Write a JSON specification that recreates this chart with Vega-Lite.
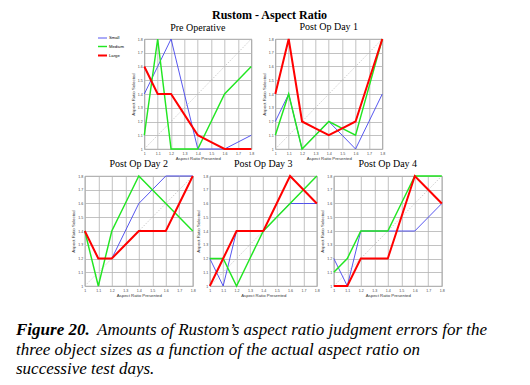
{
  "$schema": "https://vega.github.io/schema/vega-lite/v6.json",
  "padding": {"left": 16, "top": 8, "right": 0, "bottom": 0},
  "background": "white",
  "title": {"text": "Rustom - Aspect Ratio", "font": "Liberation Serif", "fontSize": 12, "fontWeight": "bold", "anchor": "middle", "offset": 0, "dx": 4},
  "data": {"values": [
    {"p":"Pre Operative","s":"Small","x":1.0,"y":1.4},{"p":"Pre Operative","s":"Small","x":1.1,"y":1.6},{"p":"Pre Operative","s":"Small","x":1.2,"y":1.8},{"p":"Pre Operative","s":"Small","x":1.3,"y":1.4},{"p":"Pre Operative","s":"Small","x":1.4,"y":1.0},{"p":"Pre Operative","s":"Small","x":1.5,"y":1.0},{"p":"Pre Operative","s":"Small","x":1.6,"y":1.0},{"p":"Pre Operative","s":"Small","x":1.7,"y":1.05},{"p":"Pre Operative","s":"Small","x":1.8,"y":1.1},
    {"p":"Pre Operative","s":"Medium","x":1.0,"y":1.1},{"p":"Pre Operative","s":"Medium","x":1.1,"y":1.8},{"p":"Pre Operative","s":"Medium","x":1.2,"y":1.0},{"p":"Pre Operative","s":"Medium","x":1.3,"y":1.0},{"p":"Pre Operative","s":"Medium","x":1.4,"y":1.0},{"p":"Pre Operative","s":"Medium","x":1.5,"y":1.2},{"p":"Pre Operative","s":"Medium","x":1.6,"y":1.4},{"p":"Pre Operative","s":"Medium","x":1.7,"y":1.5},{"p":"Pre Operative","s":"Medium","x":1.8,"y":1.6},
    {"p":"Pre Operative","s":"Large","x":1.0,"y":1.6},{"p":"Pre Operative","s":"Large","x":1.1,"y":1.4},{"p":"Pre Operative","s":"Large","x":1.2,"y":1.4},{"p":"Pre Operative","s":"Large","x":1.3,"y":1.25},{"p":"Pre Operative","s":"Large","x":1.4,"y":1.1},{"p":"Pre Operative","s":"Large","x":1.5,"y":1.05},{"p":"Pre Operative","s":"Large","x":1.6,"y":1.0},{"p":"Pre Operative","s":"Large","x":1.7,"y":1.0},{"p":"Pre Operative","s":"Large","x":1.8,"y":1.0},
    {"p":"Post Op Day 1","s":"Small","x":1.0,"y":1.2},{"p":"Post Op Day 1","s":"Small","x":1.1,"y":1.4},{"p":"Post Op Day 1","s":"Small","x":1.2,"y":1.0},{"p":"Post Op Day 1","s":"Small","x":1.3,"y":1.1},{"p":"Post Op Day 1","s":"Small","x":1.4,"y":1.2},{"p":"Post Op Day 1","s":"Small","x":1.5,"y":1.1},{"p":"Post Op Day 1","s":"Small","x":1.6,"y":1.0},{"p":"Post Op Day 1","s":"Small","x":1.7,"y":1.2},{"p":"Post Op Day 1","s":"Small","x":1.8,"y":1.4},
    {"p":"Post Op Day 1","s":"Medium","x":1.0,"y":1.1},{"p":"Post Op Day 1","s":"Medium","x":1.1,"y":1.4},{"p":"Post Op Day 1","s":"Medium","x":1.2,"y":1.0},{"p":"Post Op Day 1","s":"Medium","x":1.3,"y":1.1},{"p":"Post Op Day 1","s":"Medium","x":1.4,"y":1.2},{"p":"Post Op Day 1","s":"Medium","x":1.5,"y":1.15},{"p":"Post Op Day 1","s":"Medium","x":1.6,"y":1.1},{"p":"Post Op Day 1","s":"Medium","x":1.7,"y":1.45},{"p":"Post Op Day 1","s":"Medium","x":1.8,"y":1.8},
    {"p":"Post Op Day 1","s":"Large","x":1.0,"y":1.4},{"p":"Post Op Day 1","s":"Large","x":1.1,"y":1.8},{"p":"Post Op Day 1","s":"Large","x":1.2,"y":1.2},{"p":"Post Op Day 1","s":"Large","x":1.3,"y":1.15},{"p":"Post Op Day 1","s":"Large","x":1.4,"y":1.1},{"p":"Post Op Day 1","s":"Large","x":1.5,"y":1.15},{"p":"Post Op Day 1","s":"Large","x":1.6,"y":1.2},{"p":"Post Op Day 1","s":"Large","x":1.7,"y":1.5},{"p":"Post Op Day 1","s":"Large","x":1.8,"y":1.8},
    {"p":"Post Op Day 2","s":"Small","x":1.0,"y":1.4},{"p":"Post Op Day 2","s":"Small","x":1.1,"y":1.2},{"p":"Post Op Day 2","s":"Small","x":1.2,"y":1.2},{"p":"Post Op Day 2","s":"Small","x":1.3,"y":1.4},{"p":"Post Op Day 2","s":"Small","x":1.4,"y":1.6},{"p":"Post Op Day 2","s":"Small","x":1.5,"y":1.7},{"p":"Post Op Day 2","s":"Small","x":1.6,"y":1.8},{"p":"Post Op Day 2","s":"Small","x":1.7,"y":1.8},{"p":"Post Op Day 2","s":"Small","x":1.8,"y":1.8},
    {"p":"Post Op Day 2","s":"Medium","x":1.0,"y":1.4},{"p":"Post Op Day 2","s":"Medium","x":1.1,"y":1.0},{"p":"Post Op Day 2","s":"Medium","x":1.2,"y":1.4},{"p":"Post Op Day 2","s":"Medium","x":1.3,"y":1.6},{"p":"Post Op Day 2","s":"Medium","x":1.4,"y":1.8},{"p":"Post Op Day 2","s":"Medium","x":1.5,"y":1.7},{"p":"Post Op Day 2","s":"Medium","x":1.6,"y":1.6},{"p":"Post Op Day 2","s":"Medium","x":1.7,"y":1.5},{"p":"Post Op Day 2","s":"Medium","x":1.8,"y":1.4},
    {"p":"Post Op Day 2","s":"Large","x":1.0,"y":1.4},{"p":"Post Op Day 2","s":"Large","x":1.1,"y":1.2},{"p":"Post Op Day 2","s":"Large","x":1.2,"y":1.2},{"p":"Post Op Day 2","s":"Large","x":1.3,"y":1.3},{"p":"Post Op Day 2","s":"Large","x":1.4,"y":1.4},{"p":"Post Op Day 2","s":"Large","x":1.5,"y":1.4},{"p":"Post Op Day 2","s":"Large","x":1.6,"y":1.4},{"p":"Post Op Day 2","s":"Large","x":1.7,"y":1.6},{"p":"Post Op Day 2","s":"Large","x":1.8,"y":1.8},
    {"p":"Post Op Day 3","s":"Small","x":1.0,"y":1.2},{"p":"Post Op Day 3","s":"Small","x":1.1,"y":1.0},{"p":"Post Op Day 3","s":"Small","x":1.2,"y":1.4},{"p":"Post Op Day 3","s":"Small","x":1.3,"y":1.4},{"p":"Post Op Day 3","s":"Small","x":1.4,"y":1.4},{"p":"Post Op Day 3","s":"Small","x":1.5,"y":1.5},{"p":"Post Op Day 3","s":"Small","x":1.6,"y":1.6},{"p":"Post Op Day 3","s":"Small","x":1.7,"y":1.6},{"p":"Post Op Day 3","s":"Small","x":1.8,"y":1.6},
    {"p":"Post Op Day 3","s":"Medium","x":1.0,"y":1.2},{"p":"Post Op Day 3","s":"Medium","x":1.1,"y":1.2},{"p":"Post Op Day 3","s":"Medium","x":1.2,"y":1.0},{"p":"Post Op Day 3","s":"Medium","x":1.3,"y":1.2},{"p":"Post Op Day 3","s":"Medium","x":1.4,"y":1.4},{"p":"Post Op Day 3","s":"Medium","x":1.5,"y":1.5},{"p":"Post Op Day 3","s":"Medium","x":1.6,"y":1.6},{"p":"Post Op Day 3","s":"Medium","x":1.7,"y":1.7},{"p":"Post Op Day 3","s":"Medium","x":1.8,"y":1.8},
    {"p":"Post Op Day 3","s":"Large","x":1.0,"y":1.0},{"p":"Post Op Day 3","s":"Large","x":1.1,"y":1.2},{"p":"Post Op Day 3","s":"Large","x":1.2,"y":1.4},{"p":"Post Op Day 3","s":"Large","x":1.3,"y":1.4},{"p":"Post Op Day 3","s":"Large","x":1.4,"y":1.4},{"p":"Post Op Day 3","s":"Large","x":1.5,"y":1.6},{"p":"Post Op Day 3","s":"Large","x":1.6,"y":1.8},{"p":"Post Op Day 3","s":"Large","x":1.7,"y":1.7},{"p":"Post Op Day 3","s":"Large","x":1.8,"y":1.6},
    {"p":"Post Op Day 4","s":"Small","x":1.0,"y":1.2},{"p":"Post Op Day 4","s":"Small","x":1.1,"y":1.0},{"p":"Post Op Day 4","s":"Small","x":1.2,"y":1.4},{"p":"Post Op Day 4","s":"Small","x":1.3,"y":1.4},{"p":"Post Op Day 4","s":"Small","x":1.4,"y":1.4},{"p":"Post Op Day 4","s":"Small","x":1.5,"y":1.4},{"p":"Post Op Day 4","s":"Small","x":1.6,"y":1.4},{"p":"Post Op Day 4","s":"Small","x":1.7,"y":1.5},{"p":"Post Op Day 4","s":"Small","x":1.8,"y":1.6},
    {"p":"Post Op Day 4","s":"Medium","x":1.0,"y":1.1},{"p":"Post Op Day 4","s":"Medium","x":1.1,"y":1.2},{"p":"Post Op Day 4","s":"Medium","x":1.2,"y":1.4},{"p":"Post Op Day 4","s":"Medium","x":1.3,"y":1.4},{"p":"Post Op Day 4","s":"Medium","x":1.4,"y":1.4},{"p":"Post Op Day 4","s":"Medium","x":1.5,"y":1.6},{"p":"Post Op Day 4","s":"Medium","x":1.6,"y":1.8},{"p":"Post Op Day 4","s":"Medium","x":1.7,"y":1.8},{"p":"Post Op Day 4","s":"Medium","x":1.8,"y":1.8},
    {"p":"Post Op Day 4","s":"Large","x":1.0,"y":1.0},{"p":"Post Op Day 4","s":"Large","x":1.1,"y":1.0},{"p":"Post Op Day 4","s":"Large","x":1.2,"y":1.2},{"p":"Post Op Day 4","s":"Large","x":1.3,"y":1.2},{"p":"Post Op Day 4","s":"Large","x":1.4,"y":1.2},{"p":"Post Op Day 4","s":"Large","x":1.5,"y":1.5},{"p":"Post Op Day 4","s":"Large","x":1.6,"y":1.8},{"p":"Post Op Day 4","s":"Large","x":1.7,"y":1.7},{"p":"Post Op Day 4","s":"Large","x":1.8,"y":1.6}
  ]},
  "center": true,
  "spacing": -4,
  "vconcat": [
    {
      "bounds": "flush",
      "spacing": 24,
      "hconcat": [
        {
          "title": "Pre Operative", "width": 107, "height": 110,
          "encoding": {
            "x": {"field": "x", "type": "quantitative", "scale": {"domain": [1, 1.8], "nice": false, "zero": false}, "axis": {"title": "Aspect Ratio Presented", "values": [1, 1.1, 1.2, 1.3, 1.4, 1.5, 1.6, 1.7, 1.8], "format": "~g", "grid": true, "labelOverlap": false}},
            "y": {"field": "y", "type": "quantitative", "scale": {"domain": [1, 1.8], "nice": false, "zero": false}, "axis": {"title": "Aspect Ratio Selected", "values": [1, 1.1, 1.2, 1.3, 1.4, 1.5, 1.6, 1.7, 1.8], "format": "~g", "grid": true, "labelOverlap": false}}
          },
          "layer": [
            {"transform": [{"filter": "datum.p === 'Pre Operative' && datum.s === 'Small' && datum.x < 1.05"}], "mark": {"type": "rule", "color": "#b8b8b8", "strokeDash": [1.5, 1.5], "strokeWidth": 0.7},
             "encoding": {"x": {"datum": 1, "type": "quantitative"}, "y": {"datum": 1, "type": "quantitative"}, "x2": {"datum": 1.8}, "y2": {"datum": 1.8}}},
            {"transform": [{"filter": "datum.p === 'Pre Operative'"}], "mark": {"type": "line"},
             "encoding": {
               "color": {"field": "s", "type": "nominal", "sort": ["Small", "Medium", "Large"], "scale": {"domain": ["Small", "Medium", "Large"], "range": ["#4444ee", "#22e622", "#ff0000"]},
                 "legend": {"orient": "none", "legendX": 81, "legendY": -6, "title": null, "symbolType": "stroke", "symbolSize": 81, "labelFontSize": 4.2, "labelFont": "Liberation Sans", "rowPadding": -3, "labelOffset": 1}},
               "strokeWidth": {"field": "s", "type": "ordinal", "sort": ["Small", "Medium", "Large"], "scale": {"domain": ["Small", "Medium", "Large"], "range": [0.9, 2, 3.5]},
                 "legend": {"orient": "none", "legendX": 81, "legendY": -6, "title": null, "symbolType": "stroke", "symbolSize": 81, "labelFontSize": 4.2, "labelFont": "Liberation Sans", "rowPadding": -3, "labelOffset": 1}}
             }}
          ]
        },
        {
          "title": "Post Op Day 1", "width": 107, "height": 110,
          "encoding": {
            "x": {"field": "x", "type": "quantitative", "scale": {"domain": [1, 1.8], "nice": false, "zero": false}, "axis": {"title": "Aspect Ratio Presented", "values": [1, 1.1, 1.2, 1.3, 1.4, 1.5, 1.6, 1.7, 1.8], "format": "~g", "grid": true, "labelOverlap": false}},
            "y": {"field": "y", "type": "quantitative", "scale": {"domain": [1, 1.8], "nice": false, "zero": false}, "axis": {"title": "Aspect Ratio Selected", "values": [1, 1.1, 1.2, 1.3, 1.4, 1.5, 1.6, 1.7, 1.8], "format": "~g", "grid": true, "labelOverlap": false}}
          },
          "layer": [
            {"transform": [{"filter": "datum.p === 'Post Op Day 1' && datum.s === 'Small' && datum.x < 1.05"}], "mark": {"type": "rule", "color": "#b8b8b8", "strokeDash": [1.5, 1.5], "strokeWidth": 0.7},
             "encoding": {"x": {"datum": 1, "type": "quantitative"}, "y": {"datum": 1, "type": "quantitative"}, "x2": {"datum": 1.8}, "y2": {"datum": 1.8}}},
            {"transform": [{"filter": "datum.p === 'Post Op Day 1'"}], "mark": {"type": "line"},
             "encoding": {
               "color": {"field": "s", "type": "nominal", "sort": ["Small", "Medium", "Large"], "scale": {"domain": ["Small", "Medium", "Large"], "range": ["#4444ee", "#22e622", "#ff0000"]}, "legend": null},
               "strokeWidth": {"field": "s", "type": "ordinal", "sort": ["Small", "Medium", "Large"], "scale": {"domain": ["Small", "Medium", "Large"], "range": [0.9, 2, 3.5]}, "legend": null}
             }}
          ]
        }
      ]
    },
    {
      "bounds": "flush",
      "spacing": 17,
      "hconcat": [
        {
          "title": "Post Op Day 2", "width": 108, "height": 110,
          "encoding": {
            "x": {"field": "x", "type": "quantitative", "scale": {"domain": [1, 1.8], "nice": false, "zero": false}, "axis": {"title": "Aspect Ratio Presented", "values": [1, 1.1, 1.2, 1.3, 1.4, 1.5, 1.6, 1.7, 1.8], "format": "~g", "grid": true, "labelOverlap": false}},
            "y": {"field": "y", "type": "quantitative", "scale": {"domain": [1, 1.8], "nice": false, "zero": false}, "axis": {"title": "Aspect Ratio Selected", "values": [1, 1.1, 1.2, 1.3, 1.4, 1.5, 1.6, 1.7, 1.8], "format": "~g", "grid": true, "labelOverlap": false}}
          },
          "layer": [
            {"transform": [{"filter": "datum.p === 'Post Op Day 2' && datum.s === 'Small' && datum.x < 1.05"}], "mark": {"type": "rule", "color": "#b8b8b8", "strokeDash": [1.5, 1.5], "strokeWidth": 0.7},
             "encoding": {"x": {"datum": 1, "type": "quantitative"}, "y": {"datum": 1, "type": "quantitative"}, "x2": {"datum": 1.8}, "y2": {"datum": 1.8}}},
            {"transform": [{"filter": "datum.p === 'Post Op Day 2'"}], "mark": {"type": "line"},
             "encoding": {
               "color": {"field": "s", "type": "nominal", "sort": ["Small", "Medium", "Large"], "scale": {"domain": ["Small", "Medium", "Large"], "range": ["#4444ee", "#22e622", "#ff0000"]}, "legend": null},
               "strokeWidth": {"field": "s", "type": "ordinal", "sort": ["Small", "Medium", "Large"], "scale": {"domain": ["Small", "Medium", "Large"], "range": [0.9, 2, 3.5]}, "legend": null}
             }}
          ]
        },
        {
          "title": "Post Op Day 3", "width": 107, "height": 110,
          "encoding": {
            "x": {"field": "x", "type": "quantitative", "scale": {"domain": [1, 1.8], "nice": false, "zero": false}, "axis": {"title": "Aspect Ratio Presented", "values": [1, 1.1, 1.2, 1.3, 1.4, 1.5, 1.6, 1.7, 1.8], "format": "~g", "grid": true, "labelOverlap": false}},
            "y": {"field": "y", "type": "quantitative", "scale": {"domain": [1, 1.8], "nice": false, "zero": false}, "axis": {"title": "Aspect Ratio Selected", "values": [1, 1.1, 1.2, 1.3, 1.4, 1.5, 1.6, 1.7, 1.8], "format": "~g", "grid": true, "labelOverlap": false}}
          },
          "layer": [
            {"transform": [{"filter": "datum.p === 'Post Op Day 3' && datum.s === 'Small' && datum.x < 1.05"}], "mark": {"type": "rule", "color": "#b8b8b8", "strokeDash": [1.5, 1.5], "strokeWidth": 0.7},
             "encoding": {"x": {"datum": 1, "type": "quantitative"}, "y": {"datum": 1, "type": "quantitative"}, "x2": {"datum": 1.8}, "y2": {"datum": 1.8}}},
            {"transform": [{"filter": "datum.p === 'Post Op Day 3'"}], "mark": {"type": "line"},
             "encoding": {
               "color": {"field": "s", "type": "nominal", "sort": ["Small", "Medium", "Large"], "scale": {"domain": ["Small", "Medium", "Large"], "range": ["#4444ee", "#22e622", "#ff0000"]}, "legend": null},
               "strokeWidth": {"field": "s", "type": "ordinal", "sort": ["Small", "Medium", "Large"], "scale": {"domain": ["Small", "Medium", "Large"], "range": [0.9, 2, 3.5]}, "legend": null}
             }}
          ]
        },
        {
          "title": "Post Op Day 4", "width": 108, "height": 110,
          "encoding": {
            "x": {"field": "x", "type": "quantitative", "scale": {"domain": [1, 1.8], "nice": false, "zero": false}, "axis": {"title": "Aspect Ratio Presented", "values": [1, 1.1, 1.2, 1.3, 1.4, 1.5, 1.6, 1.7, 1.8], "format": "~g", "grid": true, "labelOverlap": false}},
            "y": {"field": "y", "type": "quantitative", "scale": {"domain": [1, 1.8], "nice": false, "zero": false}, "axis": {"title": "Aspect Ratio Selected", "values": [1, 1.1, 1.2, 1.3, 1.4, 1.5, 1.6, 1.7, 1.8], "format": "~g", "grid": true, "labelOverlap": false}}
          },
          "layer": [
            {"transform": [{"filter": "datum.p === 'Post Op Day 4' && datum.s === 'Small' && datum.x < 1.05"}], "mark": {"type": "rule", "color": "#b8b8b8", "strokeDash": [1.5, 1.5], "strokeWidth": 0.7},
             "encoding": {"x": {"datum": 1, "type": "quantitative"}, "y": {"datum": 1, "type": "quantitative"}, "x2": {"datum": 1.8}, "y2": {"datum": 1.8}}},
            {"transform": [{"filter": "datum.p === 'Post Op Day 4'"}], "mark": {"type": "line"},
             "encoding": {
               "color": {"field": "s", "type": "nominal", "sort": ["Small", "Medium", "Large"], "scale": {"domain": ["Small", "Medium", "Large"], "range": ["#4444ee", "#22e622", "#ff0000"]}, "legend": null},
               "strokeWidth": {"field": "s", "type": "ordinal", "sort": ["Small", "Medium", "Large"], "scale": {"domain": ["Small", "Medium", "Large"], "range": [0.9, 2, 3.5]}, "legend": null}
             }}
          ]
        }
      ]
    },
    {
      "width": 499, "height": 39,
      "view": {"stroke": null},
      "data": {"values": [
        {"line": 1, "lead": "Figure 20.", "t": "Amounts of Rustom’s aspect ratio judgment errors for the"},
        {"line": 2, "lead": "", "t": "three object sizes as a function of the actual aspect ratio on"},
        {"line": 3, "lead": "", "t": "successive test days."}
      ]},
      "encoding": {
        "x": {"datum": 0, "type": "quantitative", "scale": {"domain": [0, 1]}, "axis": null},
        "y": {"field": "line", "type": "ordinal", "scale": {"type": "point", "padding": 0}, "axis": null}
      },
      "layer": [
        {"transform": [{"filter": "datum.line === 1"}], "mark": {"type": "text", "align": "left", "baseline": "alphabetic", "dy": 36, "font": "Liberation Serif", "fontSize": 17, "fontStyle": "italic", "fontWeight": "bold", "color": "#000"}, "encoding": {"text": {"field": "lead"}}},
        {"transform": [{"filter": "datum.line === 1"}], "mark": {"type": "text", "align": "left", "baseline": "alphabetic", "dy": 36, "dx": 81, "font": "Liberation Serif", "fontSize": 17, "fontStyle": "italic", "color": "#000"}, "encoding": {"text": {"field": "t"}}},
        {"transform": [{"filter": "datum.line > 1"}], "mark": {"type": "text", "align": "left", "baseline": "alphabetic", "dy": 36, "font": "Liberation Serif", "fontSize": 17, "fontStyle": "italic", "color": "#000"}, "encoding": {"text": {"field": "t"}}}
      ]
    }
  ],
  "config": {
    "view": {"stroke": "#8c8c8c", "strokeWidth": 0.8},
    "axis": {"labelFont": "Liberation Sans", "titleFont": "Liberation Sans", "labelFontSize": 3.6, "titleFontSize": 4.3, "titleFontWeight": "normal", "labelColor": "#444", "titleColor": "#333", "gridColor": "#b3b3b3", "gridWidth": 0.8, "domain": false, "ticks": false, "labelPadding": 2, "titlePadding": 2, "labelFlush": false},
    "title": {"font": "Liberation Serif", "fontSize": 10, "fontWeight": "normal", "color": "#000", "offset": 3}
  }
}
